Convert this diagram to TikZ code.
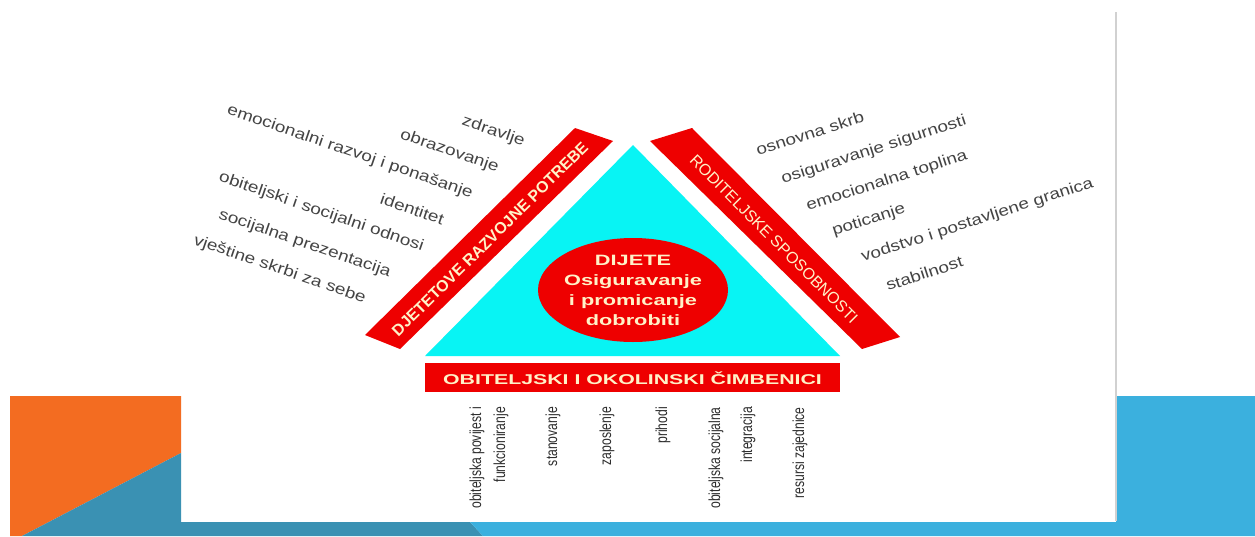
\documentclass[tikz,border=0pt]{standalone}
\usepackage{fontspec}
\setmainfont{Liberation Sans}
\newfontfamily\sidefont[FakeStretch=1.22]{Liberation Sans}
\newfontfamily\barfont[FakeStretch=1.0]{Liberation Sans}
\newfontfamily\wideboldfont[FakeStretch=1.45]{Liberation Sans}
\newfontfamily\bottombarfont[FakeStretch=1.5]{Liberation Sans}
\newfontfamily\narrowfont[FakeStretch=0.76]{Liberation Sans}
\usetikzlibrary{shapes.geometric}
\definecolor{orangebg}{HTML}{F36C21}
\definecolor{tealbg}{HTML}{3A91B3}
\definecolor{bluebg}{HTML}{3BB0DE}
\definecolor{cyanfill}{HTML}{08F4F4}
\definecolor{redbar}{HTML}{EE0000}
\definecolor{cream}{HTML}{FFF2C8}
\definecolor{labelgray}{HTML}{444444}
\definecolor{labeldark}{HTML}{2E2E2E}
\tikzset{
  leftlabel/.style={font=\sidefont\fontsize{15.5}{18}\selectfont, text=labelgray, inner sep=0, rotate=-19, anchor=base east},
  rightlabel/.style={font=\sidefont\fontsize{15.5}{18}\selectfont, text=labelgray, inner sep=0, rotate=18, anchor=base west},
  bottomlabel/.style={font=\narrowfont\fontsize{16}{24}\selectfont, text=labeldark, inner sep=0, rotate=90, anchor=east, align=right},
  bartext/.style={font=\barfont\fontsize{16}{18}\selectfont, text=cream, inner sep=0},
}
\begin{document}
\begin{tikzpicture}[x=1pt,y=-1pt]
\path[use as bounding box, fill=white] (0,0) rectangle (1255,536);
% background slide decoration
\fill[orangebg] (10,396) -- (181,396) -- (181,453) -- (22,536) -- (10,536) -- cycle;
\fill[tealbg] (22,536) -- (181,453) -- (181,522) -- (470,522) -- (483,536) -- cycle;
\fill[bluebg] (470,522) -- (1116,522) -- (1116,396) -- (1255,396) -- (1255,536) -- (483,536) -- cycle;
\draw[black!18, line width=1.5] (1116,12) -- (1116,521);
% triangle and bars
\fill[cyanfill] (425,356) -- (633,145) -- (840,356) -- cycle;
\fill[redbar] (365,335) -- (575,128) -- (613,141) -- (400,349) -- cycle;
\fill[redbar] (692,128) -- (900,337) -- (862,349) -- (650,141) -- cycle;
\fill[redbar] (425,363) rectangle (840,392);
\node[bartext, rotate=44.6] (needs) at (490,239) {\bfseries DJETETOVE RAZVOJNE POTREBE};
\node[bartext, rotate=-45.1] (parent) at (774,239) {RODITELJSKE SPOSOBNOSTI};
\node[bartext, font=\bottombarfont\bfseries\fontsize{14.2}{16}\selectfont] (family) at (632.5,378) {OBITELJSKI I OKOLINSKI ČIMBENICI};
% child ellipse
\node[ellipse, fill=redbar, minimum width=190, minimum height=104, inner sep=0] (child) at (633,290) {};
\node[font=\wideboldfont\bfseries\fontsize{15}{20}\selectfont, text=cream, align=center, inner sep=0] (childtext) at (child.center) {DIJETE\\Osiguravanje\\i promicanje\\dobrobiti};
% left labels
\node[leftlabel] (l1) at (523,146) {zdravlje};
\node[leftlabel] (l2) at (497,172) {obrazovanje};
\node[leftlabel] (l3) at (471,198) {emocionalni razvoj i ponašanje};
\node[leftlabel] (l4) at (442,225) {identitet};
\node[leftlabel] (l5) at (422,251) {obiteljski i socijalni odnosi};
\node[leftlabel] (l6) at (389,277) {socijalna prezentacija};
\node[leftlabel] (l7) at (364,303) {vještine skrbi za sebe};
% right labels
\node[rightlabel] (r1) at (758,156) {osnovna skrb};
\node[rightlabel] (r2) at (783,184) {osiguravanje sigurnosti};
\node[rightlabel] (r3) at (808,211) {emocionalna toplina};
\node[rightlabel] (r4) at (834,236) {poticanje};
\node[rightlabel] (r5) at (863,262) {vodstvo i postavljene granica};
\node[rightlabel] (r6) at (888,291) {stabilnost};
% bottom labels
\node[bottomlabel] (b1) at (489,407) {obiteljska povijest i\\funkcioniranje};
\node[bottomlabel] (b2) at (553,407) {stanovanje};
\node[bottomlabel] (b3) at (607,407) {zaposlenje};
\node[bottomlabel] (b4) at (663,407) {prihodi};
\node[bottomlabel] (b5) at (732,407) {obiteljska socijalna\\[8pt]integracija};
\node[bottomlabel] (b6) at (800,407) {resursi zajednice};
\end{tikzpicture}
\end{document}
